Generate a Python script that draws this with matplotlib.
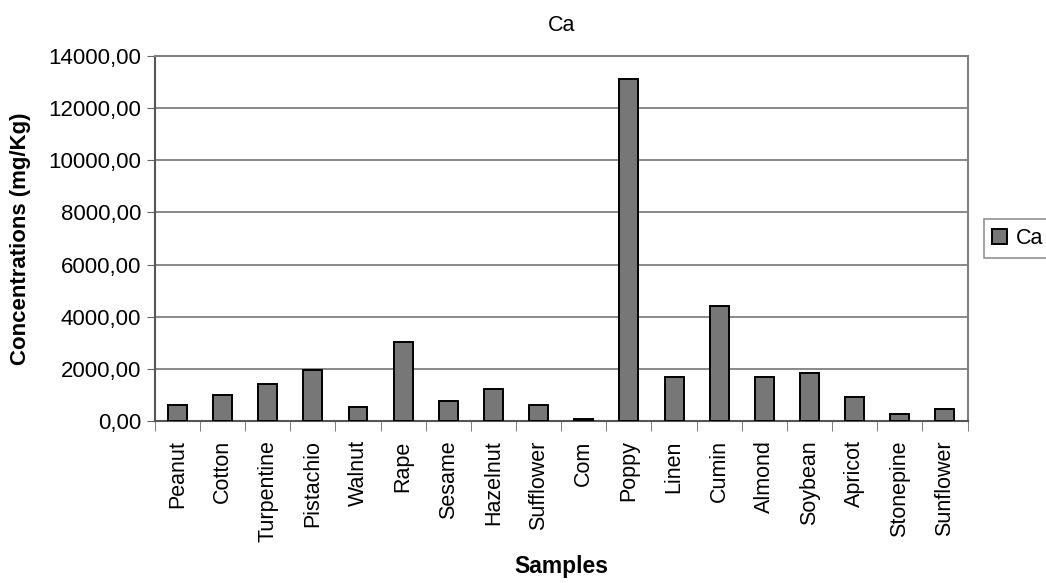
import matplotlib.pyplot as plt
import numpy as np

plt.rcParams['font.family'] = ['Liberation Sans', 'DejaVu Sans']

# Ca content per oil seed sample
samples = ['Peanut', 'Cotton', 'Turpentine', 'Pistachio', 'Walnut', 'Rape',
           'Sesame', 'Hazelnut', 'Sufflower', 'Com', 'Poppy', 'Linen', 'Cumin',
           'Almond', 'Soybean', 'Apricot', 'Stonepine', 'Sunflower']
ca = [600, 1010, 1420, 1960, 540, 3040, 755, 1215, 600, 60, 13130, 1690,
      4400, 1690, 1830, 930, 280, 470]

fig = plt.figure(figsize=(10.46, 5.83), dpi=100)
ax = fig.add_axes([0.148, 0.278, 0.777, 0.626])

x = np.arange(len(samples))
ax.bar(x, ca, width=0.42, color='#777777', edgecolor='black', linewidth=1.4,
       label='Ca', zorder=3)

ax.set_xlim(-0.5, len(samples) - 0.5)
ax.set_ylim(0, 14000)
ax.set_yticks(np.arange(0, 14001, 2000))
ax.set_yticklabels([f'{v:.2f}'.replace('.', ',') for v in np.arange(0, 14001, 2000)],
                   fontsize=16)
ax.yaxis.grid(True, color='#6a6a6a', linewidth=1.1, zorder=0)

# category labels at bar centres, tick marks between categories
ax.set_xticks(x)
ax.set_xticklabels(samples, rotation=90, fontsize=15.5, va='top')
ax.tick_params(axis='x', length=0, pad=14)
ax.set_xticks(np.arange(-0.5, len(samples)), minor=True)
ax.tick_params(axis='x', which='minor', length=7, direction='out', color='#666666')
ax.tick_params(axis='y', length=6, direction='out', color='#666666', pad=4)

for side in ['top', 'right']:
    ax.spines[side].set_color('#808080')
    ax.spines[side].set_linewidth(1.5)
for side in ['left', 'bottom']:
    ax.spines[side].set_color('#555555')
    ax.spines[side].set_linewidth(1.5)

ax.set_title('Ca', fontsize=15.5, pad=18)
ax.set_ylabel('Concentrations (mg/Kg)', fontsize=16, fontweight='bold', labelpad=12)
ax.set_xlabel('Samples', fontsize=16.5, fontweight='bold', labelpad=9)

leg = ax.legend(loc='center left', bbox_to_anchor=(1.02, 0.5), fontsize=15.5,
                frameon=True, fancybox=False, handlelength=0.7, handleheight=0.7,
                handletextpad=0.4, borderpad=0.4, borderaxespad=0)
leg.get_frame().set_edgecolor('#777777')
leg.get_frame().set_linewidth(1.2)

fig.savefig('out.png', dpi=100)
